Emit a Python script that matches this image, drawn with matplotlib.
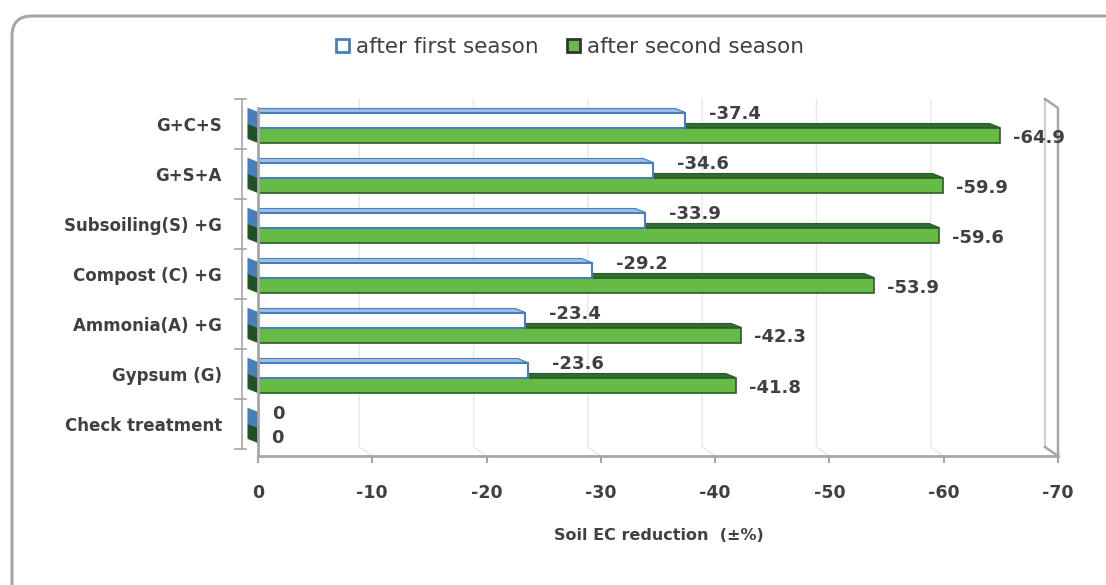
import numpy as np
import matplotlib
matplotlib.use('Agg')
import matplotlib.pyplot as plt
from matplotlib.patches import Polygon, Rectangle, FancyBboxPatch

plt.rcParams['axes.unicode_minus'] = False
plt.rcParams['font.family'] = 'DejaVu Sans'

categories = ['G+C+S', 'G+S+A', 'Subsoiling(S) +G', 'Compost (C) +G',
              'Ammonia(A) +G', 'Gypsum (G)', 'Check treatment']
first_season = [-37.4, -34.6, -33.9, -29.2, -23.4, -23.6, 0]
second_season = [-64.9, -59.9, -59.6, -53.9, -42.3, -41.8, 0]
xticks = [0, -10, -20, -30, -40, -50, -60, -70]
series_names = ['after first season', 'after second season']

TXT = '#404040'
BLUE = '#4A7EBB'
LBLUE = '#9DBFE6'
GREEN = '#66BB46'
DKGREEN = '#2D5A27'
TOPGREEN = '#2B6F33'
SIDEGREEN = '#1F4F25'
WALL = '#a6a6a6'
GRID = '#e8e8e8'

W, H = 1106, 585
fig = plt.figure(figsize=(W / 100, H / 100), dpi=100)
ax = fig.add_axes([258 / W, 1 - 456 / H, 800 / W, 357 / H])
ax.set_xlim(0, -70)
ax.set_ylim(6.64, -0.5)

# pixel -> data helpers (x axis runs from 0 on the left to -70 on the right)
def px(n):
    return n * 70 / 800

def py(n):
    return n / 50

# 3D-look offsets: back wall and bar depth
bx, by = px(13), py(9)
dx, dy = px(10), py(4)

y = np.arange(len(categories))
hb = 0.3
y1 = y - 0.08
y2 = y + 0.22

# ---- walls / grid -------------------------------------------------------
floor_back = 6.64 - by
for t in xticks[1:-1]:
    ax.plot([t + bx, t + bx, t], [-0.5, floor_back, 6.64], color=GRID, lw=1, zorder=0)
# right wall
ax.plot([-70 + bx, -70 + bx], [-0.5, floor_back], color='#cfcfcf', lw=1.5, zorder=1, clip_on=False)
ax.plot([-70 + bx, -70, -70, -70 + bx], [-0.5, -0.5 + by, 6.64, floor_back],
        color=WALL, lw=1.8, zorder=1, clip_on=False)
# left front edge
ax.plot([0, 0], [-0.5 + by, 6.64], color=WALL, lw=2, zorder=6, clip_on=False)
# back-left category bracket
ax.plot([bx + px(3), bx + px(3)], [-0.5, 6.5], color=WALL, lw=1.2, clip_on=False, zorder=1)
for b in np.arange(-0.5, 7.0, 1.0):
    ax.plot([bx + px(10), bx - px(1)], [b, b], color=WALL, lw=1.2, clip_on=False, zorder=1)

# ---- bars ---------------------------------------------------------------
ax.barh(y2, second_season, height=hb, color=GREEN, edgecolor=DKGREEN, lw=1.2, zorder=3)
ax.barh(y1, first_season, height=hb, color='white', edgecolor=BLUE, lw=1.5, zorder=4)

for yc, v, top_c, side_c, edge_c, z in [(y2, second_season, TOPGREEN, SIDEGREEN, DKGREEN, 2.5),
                                        (y1, first_season, LBLUE, BLUE, BLUE, 4.5)]:
    for c, val in zip(yc, v):
        t0, t1 = c - hb / 2, c + hb / 2
        ax.add_patch(Polygon([(0, t0), (val, t0), (val + dx, t0 - dy), (dx, t0 - dy)],
                             closed=True, fc=top_c, ec=edge_c, lw=0.8, zorder=z))
        ax.add_patch(Polygon([(0, t0), (0, t1), (dx, t1 - dy), (dx, t0 - dy)],
                             closed=True, fc=side_c, ec=edge_c, lw=0.8, zorder=z + 0.1,
                             clip_on=False))

# value labels
for c, v in zip(y1, first_season):
    off = 24 if v else 14
    ax.text(v - px(off), c - 0.13, f'{v:g}', ha='left', va='center', fontsize=13,
            color=TXT, fontweight='semibold', zorder=7)
for c, v in zip(y2, second_season):
    ax.text(v - px(13), c + 0.05, f'{v:g}', ha='left', va='center', fontsize=13,
            color=TXT, fontweight='semibold', zorder=7)

# ---- axes styling ---------------------------------------------------------
for s in ['top', 'right', 'left']:
    ax.spines[s].set_visible(False)
ax.spines['bottom'].set_color(WALL)
ax.spines['bottom'].set_linewidth(2)
ax.set_xticks(xticks)
ax.set_xticklabels([str(t) for t in xticks], fontsize=12.5, fontweight='bold', color=TXT)
ax.tick_params(axis='x', length=5, width=1.5, color=WALL, pad=15)
ax.set_yticks(y)
ax.set_yticklabels(categories, fontsize=12, fontweight='bold', color=TXT)
ax.tick_params(axis='y', length=0, pad=26)
ax.set_xlabel('Soil EC reduction  (\u00b1%)', fontsize=11.5, fontweight='bold', color=TXT, va='center')
ax.xaxis.set_label_coords((659 - 258) / 800, (456 - 535) / 357)

# legend
handles = [Rectangle((0, 0), 1, 1, fc='white', ec=BLUE, lw=2),
           Rectangle((0, 0), 1, 1, fc=GREEN, ec='#333333', lw=2)]
fig.legend(handles, series_names, loc='center', bbox_to_anchor=(570 / W, 1 - 47 / H),
           ncol=2, frameon=False, fontsize=15.5, handlelength=0.6, handleheight=0.6,
           handletextpad=0.35, columnspacing=1.3, labelcolor=TXT)

# outer rounded frame (runs off the right and bottom edges)
fig.add_artist(FancyBboxPatch((0.12, -0.3), 11.5, 5.99, boxstyle='round,pad=0,rounding_size=0.2',
                              transform=fig.dpi_scale_trans, fc='none', ec=WALL, lw=2.2))

fig.savefig('out.png', dpi=100)
